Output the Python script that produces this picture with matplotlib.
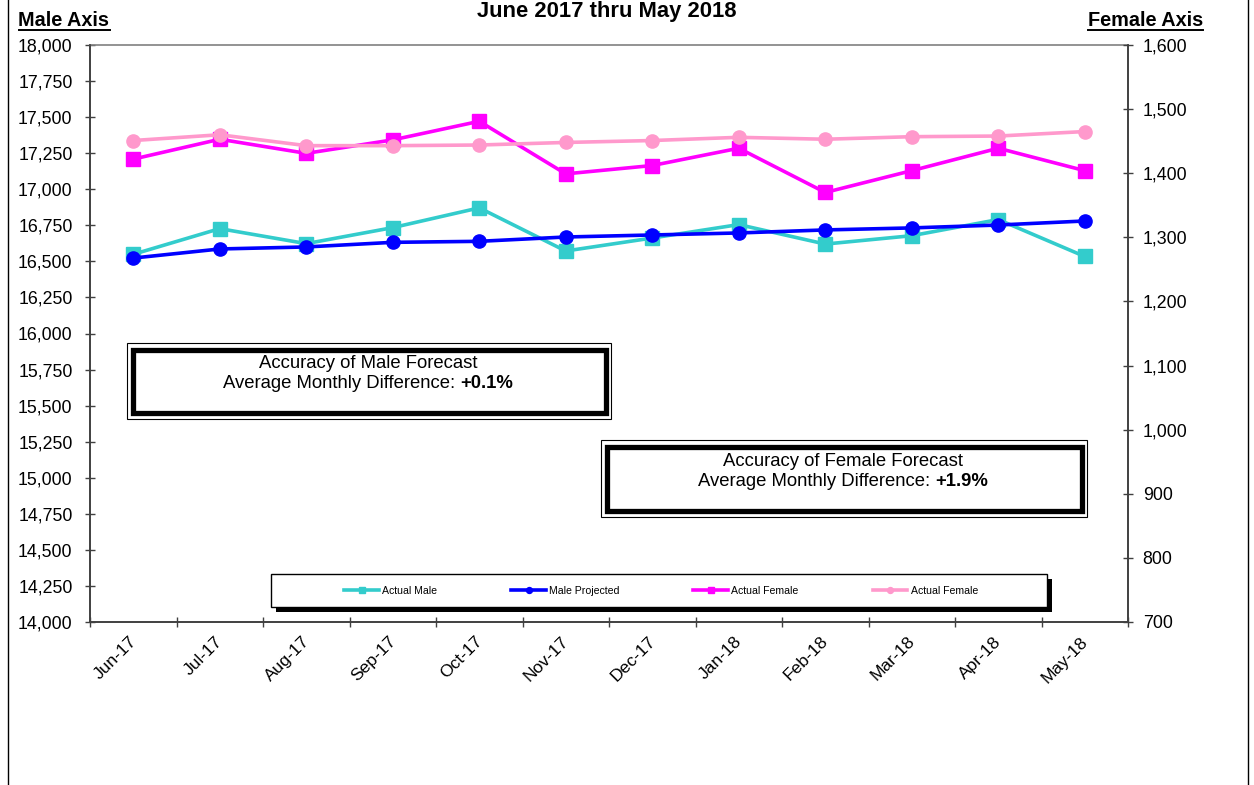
import matplotlib
matplotlib.use('Agg')
import matplotlib.pyplot as plt
import numpy as np
from matplotlib.patches import Rectangle
from matplotlib.lines import Line2D
from matplotlib.ticker import FuncFormatter, FixedLocator
from matplotlib.transforms import ScaledTranslation

plt.rcParams['font.family'] = ['Liberation Sans', 'DejaVu Sans']

# ---------------- data ----------------
months = ['Jun-17', 'Jul-17', 'Aug-17', 'Sep-17', 'Oct-17', 'Nov-17',
          'Dec-17', 'Jan-18', 'Feb-18', 'Mar-18', 'Apr-18', 'May-18']
actual_male = [16549, 16727, 16623, 16734, 16871, 16572,
               16662, 16755, 16620, 16678, 16790, 16534]
male_projected = [16523, 16586, 16600, 16632, 16639, 16669,
                  16683, 16697, 16718, 16732, 16752, 16780]
actual_female = [1422, 1453, 1431, 1452, 1481, 1399,
                 1412, 1439, 1370, 1404, 1439, 1404]
actual_female_2 = [1451, 1460, 1443, 1443, 1444, 1448,
                   1451, 1456, 1453, 1457, 1458, 1465]
series_labels = ['Actual Male', 'Male Projected', 'Actual Female', 'Actual Female']
male_ticks = list(range(14000, 18001, 250))
female_ticks = list(range(700, 1601, 100))
title = 'June 2017 thru May 2018'
male_box = ('Accuracy of Male Forecast', 'Average Monthly Difference:', '+0.1%')
female_box = ('Accuracy of Female Forecast', 'Average Monthly Difference:', '+1.9%')

# ---------------- figure ----------------
W, H = 1254, 785
fig = plt.figure(figsize=(W / 100, H / 100), dpi=100)


def fx(px):
    return px / W


def fy(py):
    return 1 - py / H


def frect(x0, y0, x1, y1, **kw):
    r = Rectangle((fx(x0), fy(y1)), (x1 - x0) / W, (y1 - y0) / H,
                  transform=fig.transFigure, **kw)
    fig.patches.append(r)
    return r


ax = fig.add_axes([fx(90), fy(622), (1128 - 90) / W, (622 - 45) / H])
ax2 = ax.twinx()

x = np.arange(len(months))
c_cyan, c_blue, c_mag, c_pink = '#33CCCC', '#0000FF', '#FF00FF', '#FF99CC'
lw = 2.6
l1, = ax.plot(x, actual_male, color=c_cyan, lw=lw, marker='s', ms=10, zorder=3)
l2, = ax.plot(x, male_projected, color=c_blue, lw=lw, marker='o', ms=9.5, zorder=4)
l3, = ax2.plot(x, actual_female, color=c_mag, lw=lw, marker='s', ms=10, zorder=3)
l4, = ax2.plot(x, actual_female_2, color=c_pink, lw=lw, marker='o', ms=9.5, zorder=4)

ax.set_xlim(-0.5, len(months) - 0.5)
ax.set_ylim(14000, 18000)
ax2.set_ylim(700, 1600)

fmt = FuncFormatter(lambda v, p: f'{v:,.0f}')
ax.yaxis.set_major_locator(FixedLocator(male_ticks))
ax.yaxis.set_major_formatter(fmt)
ax2.yaxis.set_major_locator(FixedLocator(female_ticks))
ax2.yaxis.set_major_formatter(fmt)

ax.xaxis.set_major_locator(FixedLocator(np.arange(-0.5, len(months), 1.0)))
ax.xaxis.set_major_formatter(FuncFormatter(lambda v, p: ''))
ax.set_xticks(x, minor=True)
ax.set_xticklabels(months, minor=True, rotation=45, ha='right',
                   rotation_mode='anchor', fontsize=12.6)

spc = '#404040'
for a in (ax, ax2):
    for s in a.spines.values():
        s.set_color(spc)
        s.set_linewidth(1.2)
ax.spines['top'].set_color('#808080')
ax2.spines['top'].set_visible(False)

ax.tick_params(axis='y', direction='inout', length=7.2, width=1, color=spc,
               labelsize=12.8, pad=9)
ax2.tick_params(axis='y', direction='inout', length=7.2, width=1, color=spc,
                labelsize=12.8, pad=7)
ax.tick_params(axis='x', which='major', direction='inout', length=7.2,
               width=1, color=spc)
ax.tick_params(axis='x', which='minor', length=0, pad=8.5, labelsize=12.6)

# ---------------- titles ----------------
fig.text(fx(607), fy(17.3), title, ha='center', va='baseline',
         fontsize=15.8, fontweight='bold')
t_m = fig.text(fx(18.5), fy(26), 'Male Axis', ha='left', va='baseline',
               fontsize=14.3, fontweight='bold')
t_f = fig.text(fx(1203), fy(26), 'Female Axis', ha='right', va='baseline',
               fontsize=14.3, fontweight='bold')

fig.canvas.draw()
renderer = fig.canvas.get_renderer()
for t in (t_m, t_f):
    bb = t.get_window_extent(renderer)
    yline = fy(29.5)
    fig.add_artist(Line2D([bb.x0 / W, bb.x1 / W], [yline, yline],
                          transform=fig.transFigure, color='black', lw=1.4))

# shift rotated month labels slightly left
shift = ScaledTranslation(-4.5 / 100, 0, fig.dpi_scale_trans)
for tk in ax.xaxis.get_minor_ticks():
    tk.label1.set_transform(tk.label1.get_transform() + shift)

# frame lines left/right
for xp in (7.5, 1248):
    fig.add_artist(Line2D([fx(xp), fx(xp)], [0, 1], transform=fig.transFigure,
                          color='black', lw=1.0))


# ---------------- annotation boxes ----------------
def accuracy_box(x0, y0, x1, y1, cx, base1, base2, texts):
    frect(x0, y0, x1, y1, facecolor='white', edgecolor='black', lw=0.8, zorder=2)
    frect(x0 + 5.5, y0 + 6.5, x1 - 5.5, y1 - 6, facecolor='white',
          edgecolor='black', lw=3.8, zorder=2.1)
    fs = 13.3
    fig.text(fx(cx), fy(base1), texts[0], ha='center', va='baseline',
             fontsize=fs, zorder=3)
    ta = fig.text(0, 0, texts[1], ha='left', va='baseline', fontsize=fs, zorder=3)
    tb = fig.text(0, 0, texts[2], ha='left', va='baseline', fontsize=fs,
                  fontweight='bold', zorder=3)
    wa = ta.get_window_extent(renderer).width
    wb = tb.get_window_extent(renderer).width
    gap = fs * 100 / 72 * 0.278
    start = cx - (wa + gap + wb) / 2
    ta.set_position((fx(start), fy(base2)))
    tb.set_position((fx(start + wa + gap), fy(base2)))


accuracy_box(127, 343, 611, 419, 368, 368.5, 388.5, male_box)
accuracy_box(601, 440, 1087, 517, 843, 465.5, 486.5, female_box)

# ---------------- legend ----------------
frect(276, 579, 1052, 612, facecolor='black', edgecolor='black', lw=0, zorder=2)
frect(271, 574, 1047, 607, facecolor='white', edgecolor='black', lw=1.0, zorder=2.1)
fig.legend([l1, l2, l3, l4], series_labels, loc='center',
           bbox_to_anchor=(fx(661), fy(590.5)), ncol=4, frameon=False,
           fontsize=7.6, handlelength=3.3, handletextpad=0.3,
           columnspacing=7.0, markerscale=0.45)

fig.savefig('out.png', dpi=100)
